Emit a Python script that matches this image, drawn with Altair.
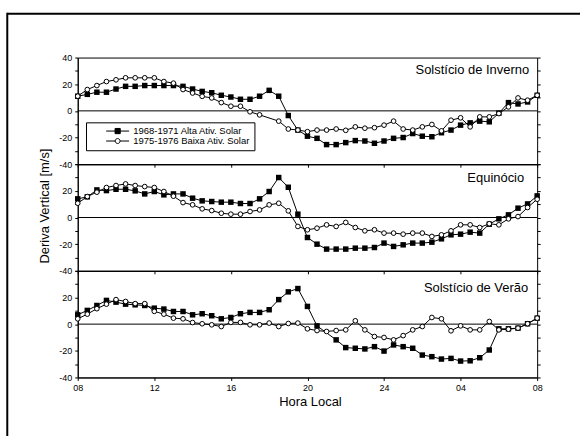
import altair as alt
import pandas as pd

# ---------------- data ----------------
HOURS = [8.0, 8.5, 9.0, 9.5, 10.0, 10.5, 11.0, 11.5, 12.0, 12.5, 13.0, 13.5,
         14.0, 14.5, 15.0, 15.5, 16.0, 16.5, 17.0, 17.5, 18.0, 18.5, 19.0, 19.5,
         20.0, 20.5, 21.0, 21.5, 22.0, 22.5, 23.0, 23.5, 24.0, 24.5, 25.0, 25.5,
         26.0, 26.5, 27.0, 27.5, 28.0, 28.5, 29.0, 29.5, 30.0, 30.5, 31.0, 31.5, 32.0]

SERIES = ["1968-1971 Alta Ativ. Solar", "1975-1976 Baixa Ativ. Solar"]
PANELS = ["Solstício de Inverno", "Equinócio", "Solstício de Verão"]

TOP_HIGH = [11, 12.4, 14, 14, 16.4, 18.4, 18.4, 19, 19, 19, 19, 18.4,
            16.4, 14.6, 13.6, 11.7, 10.4, 8.7, 8.7, 11, 15.4, 11, -3.5, -14.4,
            -19, -20.6, -25.3, -25.3, -23.8, -22.3, -22.6, -24.3, -22.6, -20.6, -20, -17,
            -19, -19.4, -16.4, -14.4, -10.7, -9, -7.7, -8.2, -1.7, 6.2, 5.2, 6.7, 11.7]
TOP_LOW = [11, 16, 19, 22, 23.3, 24.8, 24.8, 24.8, 24.8, 22, 20.8, 16,
           13.4, 10.9, 9.7, 6.2, 3.5, 3.5, -0.7, -3, None, -7.7, -13.6, -14.4,
           -15.6, -14.4, -14.4, -13.6, -14.6, -12, -13, -12.6, -10.7, -7.7, -13.6, -14.4,
           -12, -10.2, -15, -7, -5.2, -12, -4.5, -4.5, -2, 3, 9.7, 8, 11.7]

MID_HIGH = [14, 15.5, 20.7, 20.2, 21.2, 21.2, 20, 17.7, 19.5, 17, 17.7, 17.7,
            14.5, 12.5, 12, 11.5, 11.5, 10.5, 10.5, 14, 19.5, 30, 22.7, 2.5,
            -15, -20, -23.7, -23.7, -23.7, -23, -23, -22.5, -19.2, -21.7, -20.5, -19.2,
            -19.2, -18.5, -16, -13, -12.5, -11, -11.7, -5, -1, 2, 7, 10.2, 16.2]
MID_LOW = [10.7, 15.7, 19, 22.5, 24, 25.2, 24, 23.2, 22.5, 19.5, 16, 11.2,
           9.5, 6.5, 5.2, 3.2, 2.5, 2.5, 4.5, 5.7, 9.5, 10.7, 5, -6.7,
           -9.2, -8, -5.5, -6.7, -3.7, -7.5, -10, -9.2, -11.7, -11.7, -12.5, -11.7,
           -11.7, -14.2, -13, -10, -5.5, -5.5, -7.5, -4.7, -5.5, -1, 0.7, 7.5, 13.7]

BOT_HIGH = [7, 10.3, 14, 17.8, 16.5, 15, 14.5, 14, 12, 11.3, 9.5, 9.5,
            7, 7.8, 6.3, 4, 5, 7.8, 8.8, 8.8, 10.8, 18.4, 24.2, 26.7,
            13.3, -1.3, None, -11.8, -17.6, -18.1, -18.6, -16.9, -20.2, -15.6, -16.9, -18.1,
            -23.2, -24.4, -26.2, -25.7, -27.7, -27.5, -25.2, -19.4, -3.5, -3.5, -3, 0.3, 4.5]
BOT_LOW = [4, 7.5, 11.6, 15, 18.4, 17, 15.4, 15.4, 9.6, 7.5, 4.5, 4,
           1.2, 0.3, -0.5, -1.8, 1.3, 1.3, -0.5, -0.5, 0.8, -1.8, 0.5, 0.8,
           -3.5, -4.8, -5.5, -4.8, -4.3, 2.5, -4.3, -9.3, -10, -11.8, -8.6, -4.3,
           -1.8, 5, 4, -5, -1.3, -4.3, -4.3, 2, -4.3, -3.8, -3, 0.3, 4.5]

Y_TICKS = [-40, -30, -20, -10, 0, 10, 20, 30, 40]
X_TICKS = [8, 9, 10, 11, 12, 13, 14, 15, 16, 17, 18, 19, 20, 21, 22, 23, 24,
           25, 26, 27, 28, 29, 30, 31, 32]

rows = []
for pname, hi, lo in zip(PANELS, [TOP_HIGH, MID_HIGH, BOT_HIGH], [TOP_LOW, MID_LOW, BOT_LOW]):
    for sname, vals in zip(SERIES, [hi, lo]):
        for h, v in zip(HOURS, vals):
            if v is not None:
                rows.append({"panel": pname, "series": sname, "hour": h, "v": v})
df = pd.DataFrame(rows)

# ---------------- styling ----------------
FONT = "Liberation Sans"
W, H = 461, 107
xscale = alt.Scale(domain=[8, 32], nice=False, zero=False)
yscale = alt.Scale(domain=[-40, 40], nice=False, zero=False)

X_LABEL_EXPR = ("datum.value % 4 != 0 ? '' : (datum.value == 24 ? '24' : "
                "(datum.value % 24 < 10 ? '0' + (datum.value % 24) : '' + (datum.value % 24)))")

# legend glyphs: a short line with the marker in its middle (shifted right)
SQ_PATH = "M4.2,0H12.6M7.45,-0.95H9.35V0.95H7.45Z"
CI_PATH = ("M4.2,0H7.5M9.3,0H12.6M7.5,0A0.9,0.9,0,1,0,9.3,0"
           "A0.9,0.9,0,1,0,7.5,0Z")

LABEL_POS = [(453, 13), (448, 14), (452, 17)]


def panel(i):
    name = PANELS[i]
    d = df[df.panel == name]
    bottom = i == 2

    if i == 0:
        ylab = "datum.value % 20 == 0 ? '' + datum.value : ''"
    else:
        ylab = "datum.value % 20 == 0 && datum.value != 40 ? '' + datum.value : ''"

    yaxis = alt.Axis(values=Y_TICKS, labelExpr=ylab, tickSize=3, labelPadding=3,
                     grid=False, title=None)
    if i == 1:
        yaxis = alt.Axis(values=Y_TICKS, labelExpr=ylab, tickSize=3, labelPadding=3,
                         grid=False, title="Deriva Vertical [m/s]",
                         titleX=-33, titleY=41.5, titleAngle=270,
                         titleAlign="center", titleBaseline="middle")
    if bottom:
        xaxis = alt.Axis(values=X_TICKS, labelExpr=X_LABEL_EXPR, tickSize=3,
                         labelPadding=3, grid=False, title="Hora Local",
                         titlePadding=3, titleX=233, labelFlush=False)
    else:
        xaxis = alt.Axis(values=X_TICKS, labels=False, tickSize=3, grid=False,
                         title=None)

    lines = alt.Chart(d).mark_line(color="black", strokeWidth=1).encode(
        x=alt.X("hour:Q", scale=xscale, axis=xaxis),
        y=alt.Y("v:Q", scale=yscale, axis=yaxis),
        detail="series:N",
    )
    zero = alt.Chart(pd.DataFrame({"z": [0]})).mark_rule(
        color="black", strokeWidth=1).encode(
        y=alt.Y("z:Q", scale=yscale,
                axis=alt.Axis(orient="right", values=Y_TICKS, labels=False,
                              tickSize=3, domain=False, grid=False, title=None))
    )
    squares = alt.Chart(d[d.series == SERIES[0]]).mark_point(
        shape="square", filled=True, color="black", size=30, opacity=1).encode(
        x=alt.X("hour:Q", scale=xscale),
        y=alt.Y("v:Q", scale=yscale, axis=None),
    )
    circles = alt.Chart(d[d.series == SERIES[1]]).mark_point(
        shape="circle", filled=True, fill="white", stroke="black",
        strokeWidth=1, size=22, opacity=1).encode(
        x=alt.X("hour:Q", scale=xscale),
        y=alt.Y("v:Q", scale=yscale, axis=None),
    )
    lx, ly = LABEL_POS[i]
    label = alt.Chart(pd.DataFrame({"t": [name]})).mark_text(
        align="right", baseline="middle", fontSize=13, font=FONT,
        color="black").encode(text="t:N", x=alt.value(lx), y=alt.value(ly))

    layers = [zero, lines, squares, circles, label]

    if i == 0:
        leg = alt.Legend(title=None, orient="none", legendX=8.3, legendY=65,
                         strokeColor="black", fillColor="white", padding=4,
                         labelFont=FONT, labelFontSize=9.5, labelOffset=34,
                         rowPadding=-1.5, symbolSize=30, symbolStrokeColor="black",
                         symbolStrokeWidth=1, symbolOpacity=1,
                         labelExpr="datum.label + '      '")
        legend_layer = alt.Chart(pd.DataFrame({"series": SERIES})).transform_filter(
            "false").mark_point(filled=True, size=30, strokeWidth=1, opacity=1).encode(
            shape=alt.Shape("series:N",
                            scale=alt.Scale(domain=SERIES, range=[SQ_PATH, CI_PATH]),
                            legend=leg),
            fill=alt.Fill("series:N",
                          scale=alt.Scale(domain=SERIES, range=["black", "white"]),
                          legend=leg),
            stroke=alt.Stroke("series:N",
                              scale=alt.Scale(domain=SERIES, range=["black", "black"]),
                              legend=leg),
        )
        top_rule = alt.Chart(pd.DataFrame({"a": [0]})).mark_rule(
            color="black", strokeWidth=2).encode(
            x=alt.value(-70.7), x2=alt.value(504), y=alt.value(-44))
        left_rule = alt.Chart(pd.DataFrame({"a": [0]})).mark_rule(
            color="black", strokeWidth=2).encode(
            x=alt.value(-70.7), y=alt.value(-45), y2=alt.value(380))
        layers += [legend_layer, top_rule, left_rule]

    return alt.layer(*layers).resolve_axis(y="independent").properties(
        width=W, height=H)


chart = alt.vconcat(panel(0), panel(1), panel(2), spacing=0, bounds="flush").resolve_scale(
    shape="independent", fill="independent", stroke="independent"
).properties(
    padding={"left": 5, "top": 10, "right": 0, "bottom": 0},
    background="white",
).configure(font=FONT).configure_view(
    stroke="black", strokeWidth=1
).configure_axis(
    domainColor="black", tickColor="black", labelColor="black",
    labelFont=FONT, labelFontSize=9, titleFont=FONT, titleFontSize=13,
    titleFontWeight="normal", titleColor="black", domainWidth=1, tickWidth=1,
)

chart.save("out.html", embed_options={"renderer": "svg", "actions": False})
